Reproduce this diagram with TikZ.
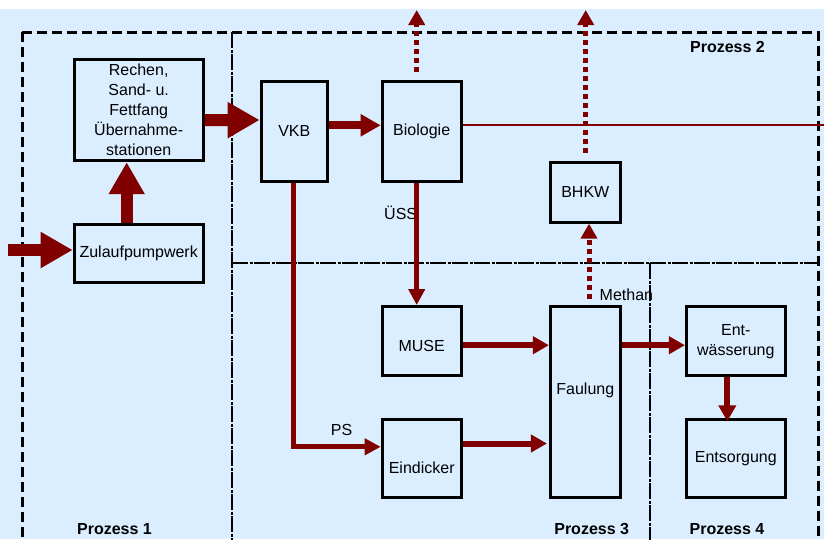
\documentclass[tikz,border=0pt]{standalone}
\usepackage{fontspec}
\setmainfont{Liberation Sans}
\usetikzlibrary{arrows.meta,calc}
\definecolor{bgblue}{HTML}{DAEEFF}
\definecolor{arr}{HTML}{800000}
\begin{document}
\begin{tikzpicture}[x=1pt,y=-1pt,
  every node/.style={font=\fontsize{16}{20}\selectfont},
  box/.style={draw=black, line width=3pt, fill=bgblue, inner sep=0pt, align=center},
  txt/.style={inner sep=0pt},
  plabel/.style={inner sep=0pt, font=\fontsize{16}{20}\selectfont\bfseries},
  outerdash/.style={draw=black, line width=3pt, dash pattern=on 10pt off 5pt},
  dashdot/.style={draw=black, line width=2pt, dash pattern=on 16pt off 1.5pt on 3pt off 1.5pt},
  bigarrow/.style={draw=arr, line width=12pt, -{Triangle[length=32pt,width=34pt]}},
  midarrow/.style={draw=arr, line width=8pt, -{Triangle[length=20pt,width=21pt]}},
  smallarrow/.style={draw=arr, line width=6pt, -{Triangle[length=16pt,width=17pt]}},
  thinarrow/.style={draw=arr, line width=5pt, -{Triangle[length=16pt,width=16pt]}},
  dotarrow/.style={draw=arr, line width=5pt, dash pattern=on 5pt off 4pt, -{Triangle[length=15pt,width=16pt]}},
  thinline/.style={draw=arr, line width=2pt}
]
\useasboundingbox (0,0) rectangle (824,539);
\fill[bgblue] (0,9) rectangle (824,539);

% process frames
\begin{scope}
\clip (0,0) rectangle (824,539);
\draw[outerdash] (22,32) -- (818.5,32) -- (818.5,560);
\draw[outerdash] (22,32) -- (22,560);
\draw[dashdot] (232,32) -- (232,545);
\draw[dashdot] (232,263) -- (817,263);
\draw[dashdot] (649.5,263) -- (649.5,545);
\end{scope}

% boxes
\node[box, minimum width=129pt, minimum height=101pt] (rechen) at (138.7,110.2)
  {Rechen,\\Sand- u.\\Fettfang\\Übernahme-\\stationen};
\node[box, minimum width=129pt, minimum height=58pt] (zul) at (138.7,253.7) {Zulaufpumpwerk};
\node[box, minimum width=66.3pt, minimum height=99.7pt] (vkb) at (294.3,131.3) {VKB};
\node[box, minimum width=79pt, minimum height=99.7pt] (bio) at (421.7,131.3) {Biologie};
\node[box, minimum width=69.7pt, minimum height=59.7pt] (bhkw) at (585.3,192.3) {BHKW};
\node[box, minimum width=79pt, minimum height=69.3pt] (muse) at (421.7,341.2) {};
\node[box, minimum width=79pt, minimum height=78pt] (eind) at (421.7,458.8) {};
\node[box, minimum width=69.7pt, minimum height=191.3pt] (faul) at (585.3,402.2) {};
\node[box, minimum width=98.7pt, minimum height=69.3pt] (entw) at (735.8,341.2) {Ent-\\wässerung};
\node[box, minimum width=98.7pt, minimum height=78pt] (ents) at (735.8,458.8) {Entsorgung};

\node[txt] (musetxt) at ([yshift=-4.5pt]muse.center) {MUSE};
\node[txt] (eindtxt) at ([yshift=-9pt]eind.center) {Eindicker};
\node[txt] (faultxt) at ([yshift=12pt]faul.center) {Faulung};

% labels
\node[plabel] (p1) at (114.5,529) {Prozess 1};
\node[plabel] (p2) at (727.5,46.5) {Prozess 2};
\node[plabel] (p3) at (591.7,529) {Prozess 3};
\node[plabel] (p4) at (727,529) {Prozess 4};
\node[txt, anchor=west] (uss) at (384,212.5) {ÜSS};
\node[txt] (ps) at (341.5,429.5) {PS};
\node[txt, anchor=west] (methan) at (599.5,294.5) {Methan};

% coordinates for free ends
\coordinate (in) at (8,250);
\coordinate (bioend) at (826,125.3);
\coordinate (biotop) at (416.7,10);
\coordinate (bhkwtop) at (585.7,10);

% connectors
\draw[bigarrow] (in) -- (in -| zul.west);
\draw[bigarrow] ([xshift=-12pt]zul.north) -- ([xshift=-12pt]rechen.south);
\draw[bigarrow] ([yshift=-10pt]rechen.east) -- ([yshift=11.3pt]vkb.west);
\draw[midarrow] ([yshift=6pt]vkb.east) -- ([yshift=6pt]bio.west);
\draw[thinline] ([yshift=6pt]bio.east) -- (bioend);
\draw[dotarrow] ([xshift=-5pt,yshift=8pt]bio.north) -- (biotop);
\draw[dotarrow] ([xshift=0.4pt,yshift=8pt]bhkw.north) -- (bhkwtop);
\draw[dotarrow] ([xshift=3.7pt,yshift=6pt]faul.north) -- ([xshift=3.7pt]bhkw.south);
\draw[thinarrow] ([xshift=-5pt]bio.south) -- ([xshift=-5pt]muse.north);
\draw[thinarrow] ([xshift=-1pt]vkb.south) |- ([yshift=12pt]eind.west);
\coordinate (m1) at ([yshift=-4pt]muse.east);
\coordinate (e1) at ([yshift=15.3pt]eind.east);
\draw[smallarrow] (m1) -- (m1 -| faul.west);
\draw[smallarrow] (e1) -- ([xshift=-2pt]e1 -| faul.west);
\draw[smallarrow] (faul.east |- m1) -- (entw.west |- m1);
\draw[smallarrow] ([xshift=-8.5pt]entw.south) -- ([xshift=-8.5pt,yshift=-3pt]ents.north);
\end{tikzpicture}
\end{document}
